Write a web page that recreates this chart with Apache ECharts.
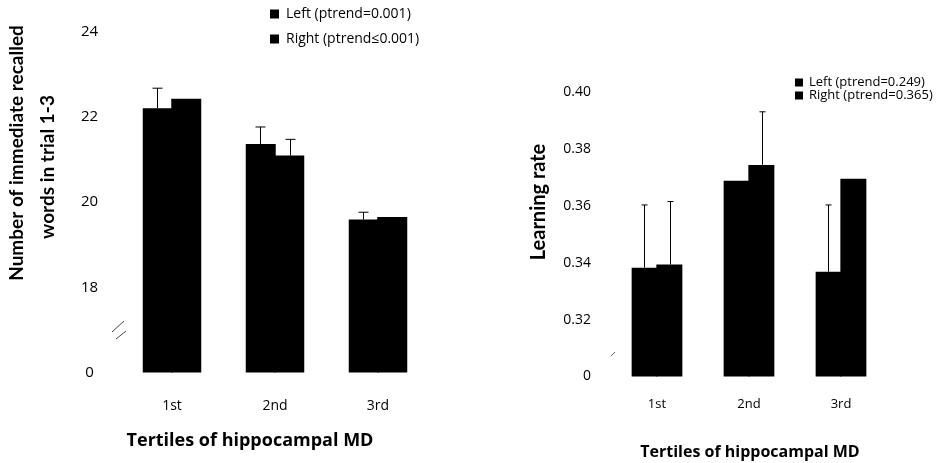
<!DOCTYPE html>
<html>
<head>
<meta charset="utf-8">
<script src="https://cdn.jsdelivr.net/npm/echarts@6.0.0/dist/echarts.min.js"></script>
<style>
html,body{margin:0;padding:0;background:#fff;}
#chart{width:951px;height:463px;}
</style>
</head>
<body>
<div id="chart"></div>
<script>
// ---- data ----
const categories = ['1st', '2nd', '3rd'];
// left panel: immediate recalled words (trial 1-3)
const recallLeft = [22.20, 21.36, 19.59];
const recallRight = [22.42, 21.09, 19.65];
const recallLeftErrTop = [22.67, 21.76, 19.76];
const recallRightErrTop = [null, 21.47, null];
const recallTicks = {min: 16, max: 24, interval: 2, breakLabel: '0'};
// right panel: learning rate
const rateLeft = [0.3383, 0.3689, 0.3369];
const rateRight = [0.3394, 0.3745, 0.3696];
const rateLeftErrTop = [0.3604, null, 0.3604];
const rateRightErrTop = [0.3616, 0.3932, null];
const rateTicks = {min: 0.30, max: 0.40, interval: 0.02, breakLabel: '0'};

const namesLeftPanel = ['Left (ptrend=0.001)', 'Right (ptrend\u22640.001)'];
const namesRightPanel = ['Left (ptrend=0.249)', 'Right (ptrend=0.365)'];

const FONT = 'Open Sans';
const TFONT = 'Lato';

function errData(tops, vals) {
  const out = [];
  tops.forEach(function (t, i) { if (t != null) out.push([i, t, vals[i]]); });
  return out;
}
function errRender(sign, barW, cap) {
  return function (params, api) {
    const i = api.value(0);
    const pTop = api.coord([i, api.value(1)]);
    const pBase = api.coord([i, api.value(2)]);
    const x = Math.round(pBase[0] + sign * barW / 2) + 0.5;
    const st = {stroke: '#000', lineWidth: 1};
    return {type: 'group', children: [
      {type: 'line', shape: {x1: x, y1: pBase[1], x2: x, y2: pTop[1]}, style: st},
      {type: 'line', shape: {x1: x - cap, y1: pTop[1], x2: x + cap, y2: pTop[1]}, style: st}
    ]};
  };
}

const chart = echarts.init(document.getElementById('chart'), null, {renderer: 'canvas'});

const g0 = {left: 120.5, top: 31.5, width: 309, height: 341};
const g1 = {left: 611, top: 92.5, width: 276, height: 284};
const bw0 = 30, bw1 = 26;
const barStyle = {color: '#000'};
const gap = '-5%';

const option = {
  backgroundColor: '#fff',
  animation: false,
  textStyle: {fontFamily: FONT, color: '#000'},
  grid: [
    {left: g0.left, top: g0.top, width: g0.width, height: g0.height},
    {left: g1.left, top: g1.top, width: g1.width, height: g1.height}
  ],
  legend: [
    {
      data: namesLeftPanel, orient: 'vertical', left: 265, top: 2,
      icon: 'rect', itemWidth: 9, itemHeight: 9, itemGap: 11,
      textStyle: {fontFamily: FONT, fontSize: 14, color: '#000', padding: [0, 0, 0, 2]},
      selectedMode: false
    },
    {
      data: namesRightPanel, orient: 'vertical', left: 790, top: 71,
      icon: 'rect', itemWidth: 8, itemHeight: 8, itemGap: 0,
      textStyle: {fontFamily: FONT, fontSize: 13, color: '#000', padding: [0, 0, 0, 1]},
      selectedMode: false
    }
  ],
  xAxis: [
    {
      type: 'category', gridIndex: 0, data: categories,
      axisLine: {show: false}, axisTick: {show: false},
      axisLabel: {margin: 27, fontSize: 14, color: '#000', fontFamily: FONT}
    },
    {
      type: 'category', gridIndex: 1, data: categories,
      axisLine: {show: false}, axisTick: {show: false},
      axisLabel: {margin: 21, fontSize: 13, color: '#000', fontFamily: FONT}
    }
  ],
  yAxis: [
    {
      type: 'value', gridIndex: 0, min: recallTicks.min, max: recallTicks.max, interval: recallTicks.interval,
      axisLine: {show: false}, axisTick: {show: false}, splitLine: {show: false},
      axisLabel: {
        margin: 31, align: 'center', fontSize: 15, color: '#000', fontFamily: FONT,
        formatter: function (v) { return v === recallTicks.min ? recallTicks.breakLabel : String(v); }
      }
    },
    {
      type: 'value', gridIndex: 1, min: rateTicks.min, max: rateTicks.max, interval: rateTicks.interval,
      axisLine: {show: false}, axisTick: {show: false}, splitLine: {show: false},
      axisLabel: {
        margin: 20, fontSize: 14, color: '#000', fontFamily: FONT,
        formatter: function (v) { return Math.abs(v - rateTicks.min) < 1e-9 ? rateTicks.breakLabel : v.toFixed(2); }
      }
    }
  ],
  series: [
    {name: namesLeftPanel[0], type: 'bar', xAxisIndex: 0, yAxisIndex: 0, data: recallLeft,
      barWidth: bw0, barGap: gap, itemStyle: barStyle},
    {name: namesLeftPanel[1], type: 'bar', xAxisIndex: 0, yAxisIndex: 0, data: recallRight,
      barWidth: bw0, barGap: gap, itemStyle: barStyle},
    {name: namesRightPanel[0], type: 'bar', xAxisIndex: 1, yAxisIndex: 1, data: rateLeft,
      barWidth: bw1, barGap: gap, itemStyle: barStyle},
    {name: namesRightPanel[1], type: 'bar', xAxisIndex: 1, yAxisIndex: 1, data: rateRight,
      barWidth: bw1, barGap: gap, itemStyle: barStyle},
    {type: 'custom', xAxisIndex: 0, yAxisIndex: 0, data: errData(recallLeftErrTop, recallLeft),
      renderItem: errRender(-1, bw0, 5), z: 5},
    {type: 'custom', xAxisIndex: 0, yAxisIndex: 0, data: errData(recallRightErrTop, recallRight),
      renderItem: errRender(1, bw0, 5), z: 5},
    {type: 'custom', xAxisIndex: 1, yAxisIndex: 1, data: errData(rateLeftErrTop, rateLeft),
      renderItem: errRender(-1, bw1, 3), z: 5},
    {type: 'custom', xAxisIndex: 1, yAxisIndex: 1, data: errData(rateRightErrTop, rateRight),
      renderItem: errRender(1, bw1, 3), z: 5}
  ],
  graphic: [
    {type: 'text', x: 17, y: 153, rotation: Math.PI / 2,
      style: {text: 'Number of immediate recalled', fontFamily: TFONT, fontWeight: 'bold', fontSize: 19, fill: '#000', align: 'center', verticalAlign: 'middle'}},
    {type: 'text', x: 48, y: 167, rotation: Math.PI / 2,
      style: {text: 'words in trial 1-3', fontFamily: TFONT, fontWeight: 'bold', fontSize: 19, fill: '#000', align: 'center', verticalAlign: 'middle'}},
    {type: 'text', x: 539, y: 202, rotation: Math.PI / 2,
      style: {text: 'Learning rate', fontFamily: TFONT, fontWeight: 'bold', fontSize: 20, fill: '#000', align: 'center', verticalAlign: 'middle'}},
    {type: 'text', x: 250, y: 441,
      style: {text: 'Tertiles of hippocampal MD', fontFamily: FONT, fontWeight: 'bold', fontSize: 18, fill: '#000', align: 'center', verticalAlign: 'middle'}},
    {type: 'text', x: 750, y: 452,
      style: {text: 'Tertiles of hippocampal MD', fontFamily: FONT, fontWeight: 'bold', fontSize: 16, fill: '#000', align: 'center', verticalAlign: 'middle'}},
    // axis break marks
    {type: 'line', shape: {x1: 112, y1: 332, x2: 124, y2: 321}, style: {stroke: '#444', lineWidth: 1}},
    {type: 'line', shape: {x1: 116, y1: 339, x2: 126, y2: 331}, style: {stroke: '#444', lineWidth: 1}},
    {type: 'line', shape: {x1: 611, y1: 356, x2: 615, y2: 352}, style: {stroke: '#666', lineWidth: 1}}
  ]
};
chart.setOption(option);
</script>
</body>
</html>
